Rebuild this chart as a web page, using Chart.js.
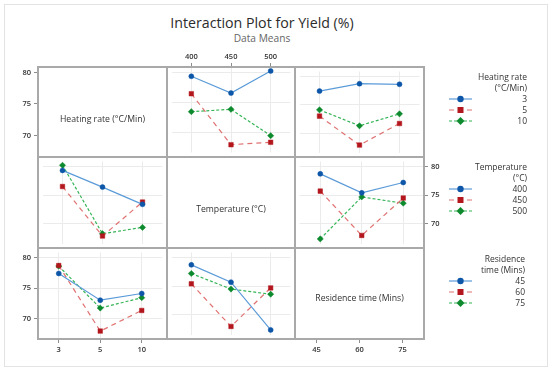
<!DOCTYPE html>
<html>
<head>
<meta charset="utf-8">
<script src="https://cdn.jsdelivr.net/npm/chart.js@4.4.0/dist/chart.umd.min.js"></script>
<style>
  body { margin: 0; background: #fff; }
  #wrap { position: relative; width: 550px; height: 372px; font-family: "Open Sans", sans-serif; }
  #wrap canvas { position: absolute; }
  .frame { position: absolute; left: 4px; top: 4px; width: 542px; height: 361px; border: 1px solid #e3e3e3; }
  .txt { position: absolute; white-space: nowrap; color: #333; line-height: 1; }
  .ln { position: absolute; background: #a9a9a9; }
</style>
</head>
<body>
<div id="wrap"><div class="frame"></div></div>
<script>
// factor levels
const heatingRates = ['3', '5', '10'];
const temperatures = ['400', '450', '500'];
const residenceTimes = ['45', '60', '75'];
const yTicks = [70, 75, 80];

// mean yield (%), rows = heating rate, cols = temperature
const yieldRateTemp = [
    [79.3, 76.5, 80.2],
    [76.4, 67.9, 68.3],
    [73.4, 73.8, 69.4]
];
// rows = heating rate, cols = residence time
const yieldRateTime = [
    [77.4, 78.7, 78.6],
    [73.0, 67.9, 71.7],
    [74.1, 71.3, 73.4]
];
// rows = temperature, cols = residence time
const yieldTempTime = [
    [78.7, 75.4, 77.2],
    [75.7, 68.0, 74.5],
    [67.4, 74.7, 73.6]
];

const wrap = document.getElementById('wrap');
const cols = [38, 167, 295, 424];
const rows = [67, 157, 248, 339];
const yMin = 66.6, yMax = 80.85;
const tickFont = { family: '"Open Sans", sans-serif', size: 7.5, weight: '600' };

// estilos de cada serie (azul, rojo, verde)
const styles = [
    { line: '#5b9bd8', point: '#0d56a8', shape: 'circle', radius: 2.5, dash: [] },
    { line: '#e07272', point: '#b3161c', shape: 'rect', radius: 3.2, dash: [5, 4] },
    { line: '#36b457', point: '#0e8a2e', shape: 'rectRot', radius: 3.1, dash: [3, 2] }
];

function transpose(m) {
    return m[0].map((_, j) => m.map(r => r[j]));
}

function zeroPad(s) {
    s.paddingTop = 0; s.paddingBottom = 0; s.paddingLeft = 0; s.paddingRight = 0;
}

function makePanel(col, row, xLabels, lines, opt) {
    const w = cols[col + 1] - cols[col], h = rows[row + 1] - rows[row];
    const L = opt.y === 'left' ? 34 : 0, R = opt.y === 'right' ? 34 : 0;
    const T = opt.x === 'top' ? 18 : 0, B = opt.x === 'bottom' ? 20 : 0;
    const cv = document.createElement('canvas');
    cv.width = w + L + R;
    cv.height = h + T + B;
    cv.style.left = (cols[col] - L) + 'px';
    cv.style.top = (rows[row] - T) + 'px';
    wrap.appendChild(cv);

    const datasets = lines.map((vals, i) => ({
        data: vals,
        borderColor: styles[i].line,
        borderWidth: 1.2,
        borderDash: styles[i].dash,
        backgroundColor: styles[i].point,
        pointBackgroundColor: styles[i].point,
        pointBorderColor: styles[i].point,
        pointBorderWidth: 0.5,
        pointStyle: styles[i].shape,
        pointRadius: styles[i].radius,
        tension: 0,
        fill: false
    }));

    new Chart(cv, {
        type: 'line',
        data: { labels: xLabels, datasets: datasets },
        options: {
            responsive: false,
            animation: false,
            events: [],
            layout: { padding: 0 },
            plugins: { legend: { display: false }, tooltip: { enabled: false } },
            scales: {
                x: {
                    position: opt.x || 'bottom',
                    offset: true,
                    grid: {
                        offset: false,
                        color: '#ebebeb',
                        drawOnChartArea: !!opt.grid,
                        drawTicks: !!opt.x,
                        tickLength: 4,
                        tickColor: '#8c8c8c'
                    },
                    border: { display: false },
                    ticks: { display: !!opt.x, padding: 2, color: '#333', font: tickFont, maxRotation: 0 },
                    afterFit: s => { s.height = T || B; zeroPad(s); }
                },
                y: {
                    position: opt.y || 'left',
                    min: yMin,
                    max: yMax,
                    afterBuildTicks: s => { s.ticks = yTicks.map(v => ({ value: v })); },
                    grid: {
                        color: '#ebebeb',
                        drawOnChartArea: !!opt.grid,
                        drawTicks: !!opt.y,
                        tickLength: 4,
                        tickColor: '#8c8c8c'
                    },
                    border: { display: false },
                    ticks: { display: !!opt.y, padding: 3, color: '#333', font: tickFont },
                    afterFit: s => { s.width = L || R; zeroPad(s); }
                }
            }
        }
    });
}

// fila 1: lineas = velocidad de calentamiento
makePanel(0, 0, heatingRates, [], { y: 'left' });
makePanel(1, 0, temperatures, yieldRateTemp, { x: 'top', grid: true });
makePanel(2, 0, residenceTimes, yieldRateTime, { grid: true });
// fila 2: lineas = temperatura
makePanel(0, 1, heatingRates, transpose(yieldRateTemp), { grid: true });
makePanel(1, 1, temperatures, [], {});
makePanel(2, 1, residenceTimes, yieldTempTime, { y: 'right', grid: true });
// fila 3: lineas = tiempo de residencia
makePanel(0, 2, heatingRates, transpose(yieldRateTime), { y: 'left', x: 'bottom', grid: true });
makePanel(1, 2, temperatures, transpose(yieldTempTime), { grid: true });
makePanel(2, 2, residenceTimes, [], { x: 'bottom' });

// marcos de los paneles
cols.forEach(x => {
    const d = document.createElement('div');
    d.className = 'ln';
    d.style.cssText = `left:${x - 1}px;top:${rows[0] - 1}px;width:2px;height:${rows[3] - rows[0] + 2}px`;
    wrap.appendChild(d);
});
rows.forEach(y => {
    const d = document.createElement('div');
    d.className = 'ln';
    d.style.cssText = `left:${cols[0] - 1}px;top:${y - 1}px;width:${cols[3] - cols[0] + 2}px;height:2px`;
    wrap.appendChild(d);
});

function addText(text, x, y, align, css) {
    const d = document.createElement('div');
    d.className = 'txt';
    d.textContent = text;
    const tx = align === 'right' ? '-100%' : align === 'center' ? '-50%' : '0';
    d.style.cssText = `left:${x}px;top:${y}px;transform:translate(${tx},-50%);${css || ''}`;
    wrap.appendChild(d);
}

addText('Interaction Plot for Yield (%)', 262, 23, 'center', 'font-size:14.2px;color:#2b2b2b');
addText('Data Means', 262, 38, 'center', 'font-size:10.2px;color:#666');

const diagFont = 'font-size:8.7px;color:#333';
addText('Heating rate (°C/Min)', 102.5, 119, 'center', diagFont);
addText('Temperature (°C)', 231, 209, 'center', diagFont);
addText('Residence time (Mins)', 359.5, 298, 'center', diagFont);

function addLegend(titleLines, levels, yTop, right) {
    const legFont = 'font-size:8.5px;color:#333';
    titleLines.forEach((t, i) => addText(t, right, yTop + i * 11, 'right', legFont));
    levels.forEach((lv, i) => {
        const y = yTop + (i + 2) * 11;
        addText(lv, right, y, 'right', legFont);
        const st = styles[i];
        const svg = document.createElementNS('http://www.w3.org/2000/svg', 'svg');
        svg.setAttribute('width', 24);
        svg.setAttribute('height', 10);
        svg.style.cssText = `position:absolute;left:449px;top:${y - 5}px`;
        let mark;
        if (st.shape === 'circle') mark = `<circle cx="11.5" cy="5" r="3.2" fill="${st.point}"/>`;
        else if (st.shape === 'rect') mark = `<rect x="8.5" y="2" width="6" height="6" fill="${st.point}"/>`;
        else mark = `<polygon points="11.5,1 15.5,5 11.5,9 7.5,5" fill="${st.point}"/>`;
        svg.innerHTML = `<line x1="0" y1="5" x2="23" y2="5" stroke="${st.line}" stroke-width="1.2" stroke-dasharray="${st.dash.join(' ') || 'none'}"/>` + mark;
        wrap.appendChild(svg);
    });
}

addLegend(['Heating rate', '(°C/Min)'], heatingRates, 77, 527);
addLegend(['Temperature', '(°C)'], temperatures, 167, 527);
addLegend(['Residence', 'time (Mins)'], residenceTimes, 258.5, 525);
</script>
</body>
</html>
